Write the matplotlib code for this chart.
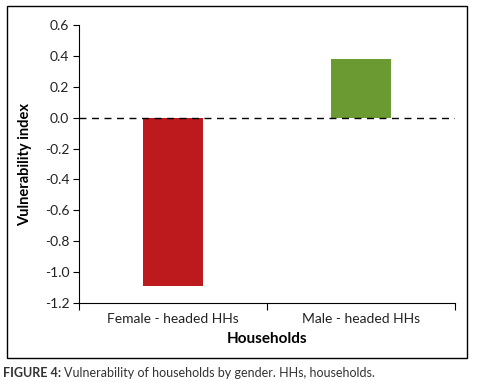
import matplotlib.pyplot as plt
from matplotlib.patches import Rectangle
import numpy as np

plt.rcParams['font.family'] = ['Lato', 'DejaVu Sans']

# data
categories = ['Female - headed HHs', 'Male - headed HHs']
values = [-1.09, 0.38]
bar_colors = ['#BC1A1C', '#6A9A31']
yticks = [-1.2, -1.0, -0.8, -0.6, -0.4, -0.2, 0.0, 0.2, 0.4, 0.6]

W, H = 481, 382
fig = plt.figure(figsize=(W / 100, H / 100), dpi=100)
ax = fig.add_axes([79 / W, 1 - 303 / H, (455 - 79) / W, (303 - 25) / H])

x = np.arange(len(categories))
ax.bar(x, values, width=0.32, color=bar_colors, zorder=2)
ax.axhline(0, color='black', lw=1, ls=(0, (5, 4)), zorder=3)

ax.set_xlim(-0.5, 1.5)
ax.set_ylim(-1.2, 0.6)
ax.set_yticks(yticks)
ax.set_yticklabels(['%.1f' % v for v in yticks], fontsize=10, color='#222222')

# x ticks at category boundaries, labels centered
ax.set_xticks([-0.5, 0.5, 1.5])
ax.set_xticklabels([])
ax.tick_params(axis='x', length=5, width=0.8)
ax.tick_params(axis='y', length=4, width=0.8, pad=3)
for xi, c in zip(x, categories):
    ax.text(xi, -0.035, c, transform=ax.get_xaxis_transform(),
            ha='center', va='top', fontsize=10, color='#222222')

for s in ['top', 'right']:
    ax.spines[s].set_visible(False)
for s in ['left', 'bottom']:
    ax.spines[s].set_linewidth(0.8)

fig.text(25 / W, 1 - 164 / H, 'Vulnerability index', rotation=90,
         ha='center', va='center', fontsize=10.5, fontweight='bold')
fig.text(267 / W, 1 - 339 / H, 'Households', ha='center', va='center',
         fontsize=11, fontweight='bold')

# outer frame
fig.patches.append(Rectangle((7 / W, 1 - 358 / H), (467 - 7) / W, (358 - 6) / H,
                             transform=fig.transFigure, fill=False,
                             edgecolor='black', lw=1))

# caption
t1 = fig.text(3 / W, 1 - 373 / H, 'FIGURE 4:', ha='left', va='center',
              fontsize=9, fontweight='bold', color='#333333')
fig.canvas.draw()
bb = t1.get_window_extent()
fig.text((bb.x1 + 3) / W, 1 - 373 / H,
         'Vulnerability of households by gender. HHs, households.',
         ha='left', va='center', fontsize=9, color='#333333')

fig.savefig('out.png', dpi=100)
